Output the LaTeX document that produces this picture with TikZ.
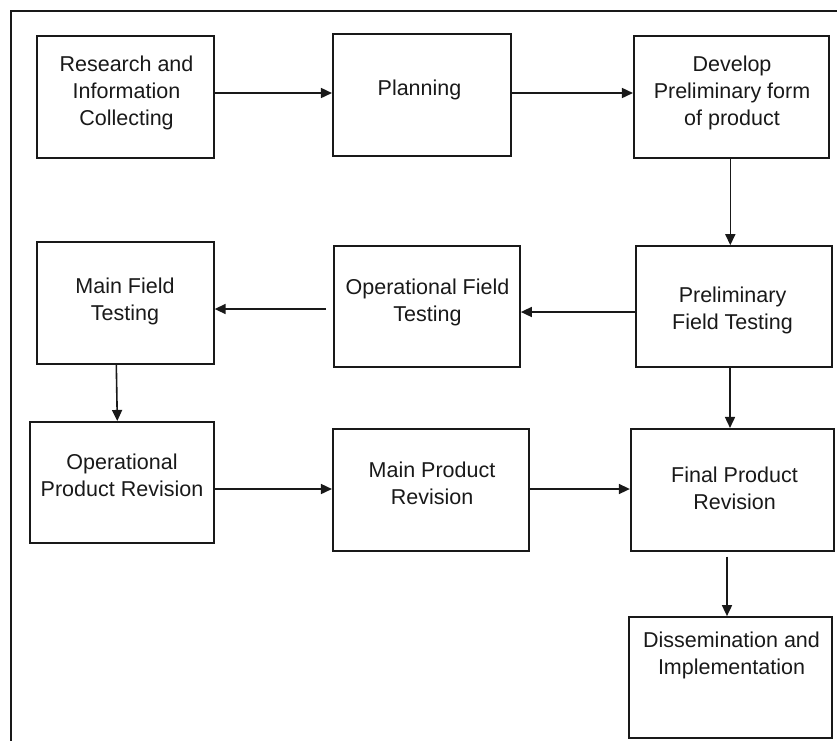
\documentclass[tikz,border=0pt]{standalone}
\usepackage{fontspec}
\setmainfont{Liberation Sans}
\usetikzlibrary{arrows.meta}
\definecolor{ink}{RGB}{25,25,25}
\begin{document}
\begin{tikzpicture}[x=1pt,y=-1pt,
  box/.style={draw=ink,line width=1.7pt,rectangle,inner sep=0pt},
  lbl/.style={inner sep=0pt,align=center,text=ink,font=\fontsize{21.5}{27}\selectfont},
  arr/.style={draw=ink,line width=1.6pt,-{Triangle[length=11pt,width=10pt]}}]
\useasboundingbox (0,0) rectangle (837,740);
% outer frame (only its left and top edges fall inside the page)
\draw[ink,line width=2.4pt] (11,760) -- (11,11) -- (860,11);

% process boxes
\node[box,minimum width=177pt,minimum height=122pt] (research) at (125.3,97) {};
\node[box,minimum width=178pt,minimum height=122pt] (planning) at (421.8,95) {};
\node[box,minimum width=195pt,minimum height=122pt] (develop)  at (731.3,97) {};
\node[box,minimum width=177pt,minimum height=122pt] (mainfield) at (125.3,303) {};
\node[box,minimum width=186pt,minimum height=121pt] (opfield)  at (427,306.5) {};
\node[box,minimum width=196pt,minimum height=121pt] (prelim)   at (733.8,306.5) {};
\node[box,minimum width=184pt,minimum height=121pt] (opprod)   at (121.8,482.3) {};
\node[box,minimum width=196pt,minimum height=122pt] (mainprod) at (430.8,489.7) {};
\node[box,minimum width=203pt,minimum height=122pt] (final)    at (732.2,489.8) {};
\node[box,minimum width=203pt,minimum height=121pt] (dissem)   at (730.5,677.5) {};

% box labels
\node[lbl] (tresearch)  at (126.5,93)  {Research and\\Information\\Collecting};
\node[lbl] (tplanning)  at (419.5,90)  {Planning};
\node[lbl] (tdevelop)   at (732,93)    {Develop\\Preliminary form\\of product};
\node[lbl] (tmainfield) at (125,301)   {Main Field\\Testing};
\node[lbl] (topfield)   at (427.5,302) {Operational Field\\Testing};
\node[lbl] (tprelim)    at (732.5,310) {Preliminary\\Field Testing};
\node[lbl] (topprod)    at (122,475)   {Operational\\Product Revision};
\node[lbl] (tmainprod)  at (432,483)   {Main Product\\Revision};
\node[lbl] (tfinal)     at (734.5,488) {Final Product\\Revision};
\node[lbl] (tdissem)    at (731.5,655) {Dissemination and\\Implementation};

% connectors
\draw[arr] ([yshift=4pt]research.east) -- ([yshift=4pt]research.east -| planning.west);
\draw[arr] ([yshift=2pt]planning.east) -- ([yshift=2pt]planning.east -| develop.west);
\draw[arr] ([xshift=-1pt]develop.south) -- ([xshift=-1pt]develop.south |- prelim.north);
\draw[arr] ([yshift=-5.5pt]prelim.west) -- ([yshift=-5.5pt]prelim.west -| opfield.east);
\draw[arr] ([xshift=-7pt,yshift=-2.5pt]opfield.west) -- ([yshift=-2.5pt]opfield.west -| mainfield.east);
\draw[arr] ([xshift=-9pt]mainfield.south) -- ([xshift=-8pt]mainfield.south |- opprod.north);
\draw[arr] ([yshift=-6.7pt]opprod.east) -- ([yshift=-6.7pt]opprod.east -| mainprod.west);
\draw[arr] ([yshift=0.7pt]mainprod.east) -- ([yshift=0.7pt]mainprod.east -| final.west);
\draw[arr] ([xshift=-3.8pt]prelim.south) -- ([xshift=-3.8pt]prelim.south |- final.north);
\draw[arr] ([xshift=-5.2pt,yshift=-5pt]final.south) -- ([xshift=-5.2pt]final.south |- dissem.north);
\end{tikzpicture}
\end{document}
